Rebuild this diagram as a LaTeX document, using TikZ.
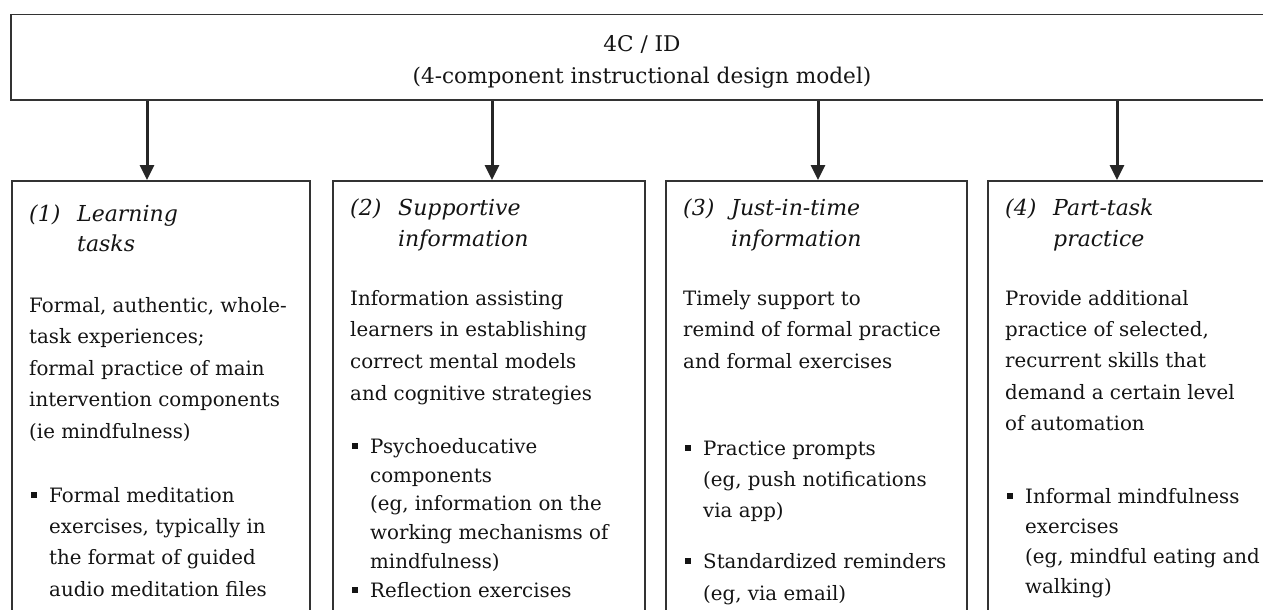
\documentclass[tikz,border=0pt]{standalone}
\usepackage{fontspec}
\setmainfont{DejaVu Serif}
\usetikzlibrary{arrows.meta}
\definecolor{ink}{HTML}{141414}
\definecolor{framegray}{HTML}{333333}
\definecolor{arrowgray}{HTML}{262626}
% square bullet followed by the hanging indent of the list text
\newcommand\sqbullet{\makebox[20pt][l]{\hspace{2pt}\rule[4pt]{6pt}{6pt}}}
\newcommand\hang{\hspace*{20pt}}
\newcommand\tag[1]{\makebox[48pt][l]{#1}}
\newcommand\tagskip{\hspace*{48pt}}
\begin{document}
\begin{tikzpicture}[x=1pt,y=-1pt,
  frame/.style={draw=framegray, line width=1.5pt, anchor=north west, inner sep=0pt},
  % text block: first baseline placed by shifting the node top by the strut height
  txt/.style={anchor=north west, inner sep=0pt, align=left, text=ink,
              font=\fontsize{19.8}{#1}\selectfont},
  head/.style={txt=#1, font=\fontsize{22}{#1}\selectfont\itshape},
  link/.style={draw=arrowgray, line width=3pt, -{Triangle[length=15pt,width=14pt]}}]
\clip (0,0) rectangle (1263,610);
\useasboundingbox (0,0) rectangle (1263,610);

% model box
\node[frame, minimum width=1290pt, minimum height=85pt] (model) at (10,14) {};
\node[anchor=north, inner sep=0pt, align=center, text=ink,
      font=\fontsize{21.6}{32}\selectfont] (modeltxt) at (642,{51-0.7*32})
  {\strut 4C / ID\\(4-component instructional design model)};

% component boxes
\node[frame, minimum width=298pt, minimum height=460pt] (b1) at (11,180) {};
\node[frame, minimum width=312pt, minimum height=460pt] (b2) at (332,180) {};
\node[frame, minimum width=301pt, minimum height=460pt] (b3) at (665,180) {};
\node[frame, minimum width=320pt, minimum height=460pt] (b4) at (987,180) {};

% arrows from the model to each component
\coordinate (a1) at (147,0);
\coordinate (a2) at (492,0);
\coordinate (a3) at (818,0);
\coordinate (a4) at (1117,0);
\draw[link] (model.south -| a1) -- (b1.north -| a1);
\draw[link] (model.south -| a2) -- (b2.north -| a2);
\draw[link] (model.south -| a3) -- (b3.north -| a3);
\draw[link] (model.south -| a4) -- (b4.north -| a4);

% (1) Learning tasks
\node[head=30] (h1) at (29,{221-0.7*30})
  {\strut\tag{(1)}Learning\\\tagskip tasks};
\node[txt=31.5] (d1) at (29,{312-0.7*31.5})
  {\strut Formal, authentic, whole-\\task experiences;\\formal practice of main\\intervention components\\(ie mindfulness)};
\node[txt=31.3] (l1) at (29,{502-0.7*31.3})
  {\strut\sqbullet Formal meditation\\\hang exercises, typically in\\\hang the format of guided\\\hang audio meditation files};

% (2) Supportive information
\node[head=31] (h2) at (350,{215-0.7*31})
  {\strut\tag{(2)}Supportive\\\tagskip information};
\node[txt=31.7] (d2) at (350,{305-0.7*31.7})
  {\strut Information assisting\\learners in establishing\\correct mental models\\and cognitive strategies};
\node[txt=28.8] (l2) at (350,{453-0.7*28.8})
  {\strut\sqbullet Psychoeducative\\\hang components\\\hang (eg, information on the\\\hang working mechanisms of\\\hang mindfulness)\\\sqbullet Reflection exercises};

% (3) Just-in-time information
\node[head=31] (h3) at (683,{215-0.7*31})
  {\strut\tag{(3)}Just-in-time\\\tagskip information};
\node[txt=31.5] (d3) at (683,{305-0.7*31.5})
  {\strut Timely support to\\remind of formal practice\\and formal exercises};
\node[txt=31] (l3a) at (683,{455-0.7*31})
  {\strut\sqbullet Practice prompts\\\hang (eg, push notifications\\\hang via app)};
\node[txt=32] (l3b) at (683,{568-0.7*32})
  {\strut\sqbullet Standardized reminders\\\hang (eg, via email)};

% (4) Part-task practice
\node[head=31] (h4) at (1005,{215-0.7*31})
  {\strut\tag{(4)}Part-task\\\tagskip practice};
\node[txt=31.3] (d4) at (1005,{305-0.7*31.3})
  {\strut Provide additional\\practice of selected,\\recurrent skills that\\demand a certain level\\of automation};
\node[txt=30] (l4) at (1005,{503-0.7*30})
  {\strut\sqbullet Informal mindfulness\\\hang exercises\\\hang (eg, mindful eating and\\\hang walking)};
\end{tikzpicture}
\end{document}
